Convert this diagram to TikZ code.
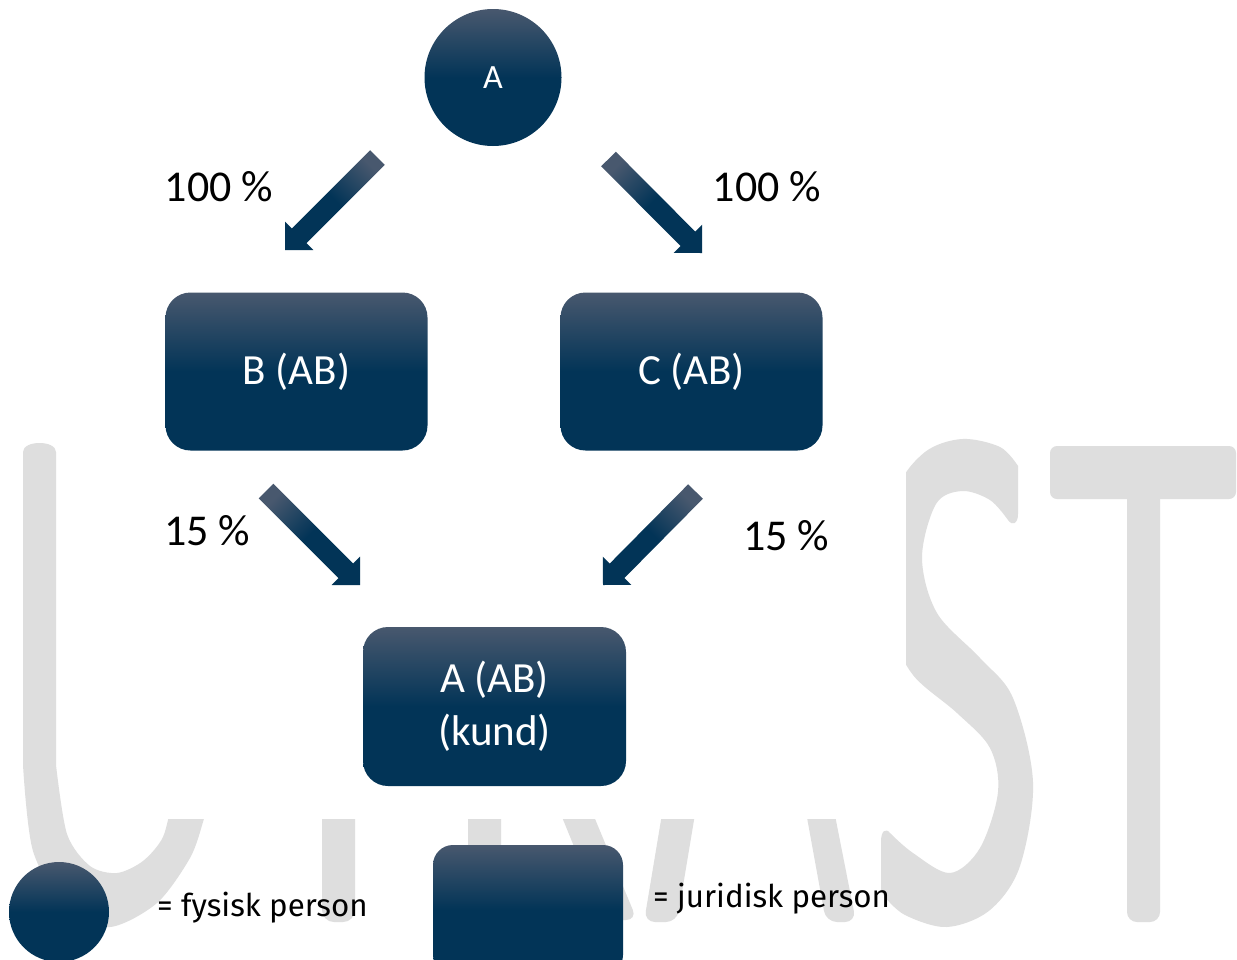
\documentclass[tikz,border=0pt]{standalone}
\usepackage{fontspec}
\setmainfont{Carlito}
\newfontfamily\legfont{Fira Sans}
\usetikzlibrary{calc}
\definecolor{boxtop}{RGB}{72,88,110}
\definecolor{boxbot}{RGB}{2,52,87}
\definecolor{wmgray}{RGB}{222,222,222}
\tikzset{
  wm/.style={fill=wmgray},
  personbox/.style={rectangle, rounded corners=25pt, top color=boxtop, bottom color=boxbot, middle color=boxbot,
    text=white, font=\fontsize{43}{53}\selectfont, align=center, inner sep=0pt},
  personcirc/.style={circle, top color=boxtop, bottom color=boxbot, middle color=boxbot,
    text=white, font=\fontsize{34}{40}\selectfont, inner sep=0pt},
  pct/.style={font=\fontsize{44}{52}\selectfont, text=black, inner sep=0pt},
  legtext/.style={font=\legfont\fontsize{31.3}{36}\selectfont, text=black, inner sep=0pt, anchor=base west}
}
\newcommand\blkarrow[3]{%
  \coordinate (hb) at ($(#2)!20pt!(#1)$);
  \shade[top color=boxtop, bottom color=boxbot, middle color=boxbot, shading angle=#3]
    ($(#1)!10.3pt!90:(#2)$) -- ($(hb)!10.3pt!90:(#2)$) -- ($(hb)!20pt!90:(#2)$) -- (#2)
    -- ($(hb)!20pt!-90:(#2)$) -- ($(hb)!10.3pt!-90:(#2)$) -- ($(#1)!10.3pt!-90:(#2)$) -- cycle;
}
\begin{document}
\begin{tikzpicture}[x=1pt,y=-1pt]
\useasboundingbox (0,0) rectangle (1237,959);
\fill[white] (0,0) rectangle (1237,959);
% watermark letters
\fill[wm] (23,452) .. controls (23,440) and (56,440) .. (56,452) -- (56,765)
  -- plot[smooth] coordinates {(56,765) (67,834) (90,866) (117,873) (143,861) (163,837) (172,800)}
  -- (208,800)
  -- plot[smooth] coordinates {(208,800) (203,822) (190,858) (157,903) (110,927) (67,910) (33,851) (23,765)} -- cycle;
\fill[wm, rounded corners=12pt] (322,780) rectangle (355,922);
\fill[wm, rounded corners=12pt] (468,780) rectangle (501,950);
\fill[wm, rounded corners=11pt] (551,790) -- (583,790) -- (637,920) -- (604,920) -- cycle;
\fill[wm, rounded corners=11pt] (666,790) -- (699,790) -- (677,922) -- (644,922) -- cycle;
\fill[wm, rounded corners=11pt] (802,790) -- (830,790) -- (856,922) -- (826,922) -- cycle;
\fill[wm] (1018,466) -- (1018,514) .. controls (1018,524) and (1012,526) .. (1008,520)
  -- plot[smooth, tension=0.55] coordinates {(1008,520) (990,500) (962,491) (936,504) (922,558) (937,613) (980,658) (1013,698) (1033,782) (1020,866) (990,910) (947,927) (905,915) (884,896)}
  -- (881,890) -- (881,842) .. controls (881,830) and (886,828) .. (890,833)
  -- plot[smooth, tension=0.55] coordinates {(890,833) (913,853) (950,873) (980,848) (998,792) (990,748) (957,713) (913,675) (893,630) (888,560) (897,490) (925,452) (962,439) (1000,447) (1018,466)} -- cycle;
\fill[wm, rounded corners=7pt] (1050,446) rectangle (1236,499);
\fill[wm, rounded corners=10pt] (1127,480) rectangle (1160,922);
% white diagram area
\fill[white] (110,0) rectangle (906,819);
% nodes
\node[personcirc, minimum size=137pt] (A) at (493,77.5) {A};
\node[personbox, minimum width=262pt, minimum height=158pt] (B) at (296.5,371.5) {B (AB)};
\node[personbox, minimum width=262pt, minimum height=158pt] (C) at (691.5,371.5) {C (AB)};
\node[personbox, minimum width=263pt, minimum height=159pt] (K) at (494.5,706.5) {A (AB)\\(kund)};
% percent labels
\node[pct] (p1) at (219,187) {100 \%};
\node[pct] (p2) at (767,187) {100 \%};
\node[pct] (p3) at (207,531) {15 \%};
\node[pct] (p4) at (786,536) {15 \%};
% arrows
\coordinate (a1t) at (377.5,157.5); \coordinate (a1h) at (285,250);
\coordinate (a2t) at (608.5,159); \coordinate (a2h) at (702,253);
\coordinate (a3t) at (266,491); \coordinate (a3h) at (360,585);
\coordinate (a4t) at (695.5,491.5); \coordinate (a4h) at (603,585);
\blkarrow{a1t}{a1h}{-45}
\blkarrow{a2t}{a2h}{45}
\blkarrow{a3t}{a3h}{45}
\blkarrow{a4t}{a4h}{-45}
% legend
\node[personcirc, minimum size=100pt] (LC) at (59,912) {};
\node[legtext] (LCt) at (157,916) {= fysisk person};
\node[personbox, rounded corners=20pt, minimum width=190pt, minimum height=130pt] (LR) at (528,910) {};
\node[legtext] (LRt) at (653,907) {= juridisk person};
\end{tikzpicture}
\end{document}
